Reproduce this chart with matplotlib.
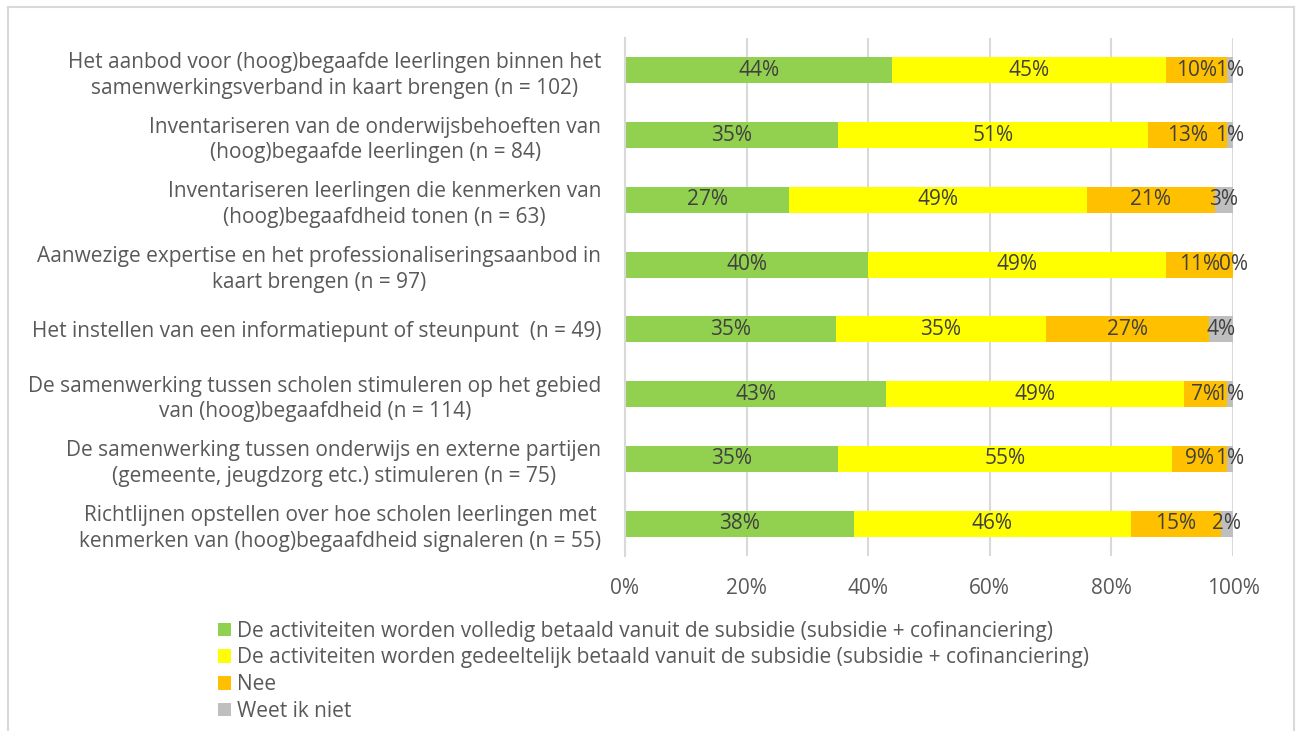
import matplotlib.pyplot as plt
import numpy as np
from matplotlib.lines import Line2D
from matplotlib.patches import Patch

plt.rcParams["font.family"] = ["Open Sans", "DejaVu Sans"]

CATEGORIES = [
    "Het aanbod voor (hoog)begaafde leerlingen binnen het\nsamenwerkingsverband in kaart brengen (n = 102)",
    "Inventariseren van de onderwijsbehoeften van\n(hoog)begaafde leerlingen (n = 84)",
    "Inventariseren leerlingen die kenmerken van\n(hoog)begaafdheid tonen (n = 63)",
    "Aanwezige expertise en het professionaliseringsaanbod in\nkaart brengen (n = 97)",
    "Het instellen van een informatiepunt of steunpunt  (n = 49)",
    "De samenwerking tussen scholen stimuleren op het gebied\nvan (hoog)begaafdheid (n = 114)",
    "De samenwerking tussen onderwijs en externe partijen\n(gemeente, jeugdzorg etc.) stimuleren (n = 75)",
    "Richtlijnen opstellen over hoe scholen leerlingen met\nkenmerken van (hoog)begaafdheid signaleren (n = 55)",
]

SERIES = [
    "De activiteiten worden volledig betaald vanuit de subsidie (subsidie + cofinanciering)",
    "De activiteiten worden gedeeltelijk betaald vanuit de subsidie (subsidie + cofinanciering)",
    "Nee",
    "Weet ik niet",
]

volledig = [44, 35, 27, 40, 35, 43, 35, 38]
gedeeltelijk = [45, 51, 49, 49, 35, 49, 55, 46]
nee = [10, 13, 21, 11, 27, 7, 9, 15]
weet_niet = [1, 1, 3, 0, 4, 1, 1, 2]

COLORS = ["#92D050", "#FFFF00", "#FFC000", "#BFBFBF"]
TEXT = "#595959"
LABEL = "#404040"

values = np.array([volledig, gedeeltelijk, nee, weet_niet], dtype=float)
shares = values / values.sum(axis=0) * 100

fig = plt.figure(figsize=(12.99, 7.31), dpi=100)
ax = fig.add_axes([0.4811, 0.2394, 0.4681, 0.7086])

y = np.arange(len(CATEGORIES))
left = np.zeros(len(CATEGORIES))
for i, (name, color) in enumerate(zip(SERIES, COLORS)):
    ax.barh(y, shares[i], left=left, height=0.4, color=color, label=name, zorder=2)
    for j in range(len(CATEGORIES)):
        ax.text(left[j] + shares[i][j] / 2, y[j], f"{int(values[i][j])}%",
                ha="center", va="center", fontsize=15, color=LABEL, zorder=3)
    left += shares[i]

ax.set_xlim(0, 100)
ax.set_ylim(len(CATEGORIES) - 0.5, -0.5)
ax.set_xticks(np.arange(0, 101, 20))
ax.set_xticklabels([f"{t}%" for t in range(0, 101, 20)])
ax.set_yticks(y)
ax.set_yticklabels(CATEGORIES)
for lab in ax.get_yticklabels():
    lab.set_multialignment("center")
    lab.set_linespacing(1.3)
ax.tick_params(axis="both", length=0, labelsize=15, colors=TEXT)
ax.tick_params(axis="y", pad=17)
ax.tick_params(axis="x", pad=16)
ax.grid(axis="x", color="#D9D9D9", linewidth=1.5, zorder=0)
for side in ["top", "right", "bottom"]:
    ax.spines[side].set_visible(False)
ax.spines["left"].set_color("#D9D9D9")
ax.spines["left"].set_linewidth(1.5)

handles = [Patch(facecolor=c, edgecolor="none") for c in COLORS]
fig.legend(handles, SERIES, loc="upper left", bbox_to_anchor=(0.168, 0.151),
           frameon=False, fontsize=15, labelcolor=TEXT, handlelength=0.6,
           handleheight=0.6, handletextpad=0.3, labelspacing=0.28,
           borderaxespad=0, borderpad=0)

# light frame around the chart area
frame = dict(color="#D9D9D9", linewidth=1.5, transform=fig.transFigure)
fig.add_artist(Line2D([0.0058, 0.0058], [0.0, 0.9904], **frame))
fig.add_artist(Line2D([0.9958, 0.9958], [0.0, 0.9904], **frame))
fig.add_artist(Line2D([0.0058, 0.9958], [0.9904, 0.9904], **frame))

fig.savefig("out.png", dpi=100)
